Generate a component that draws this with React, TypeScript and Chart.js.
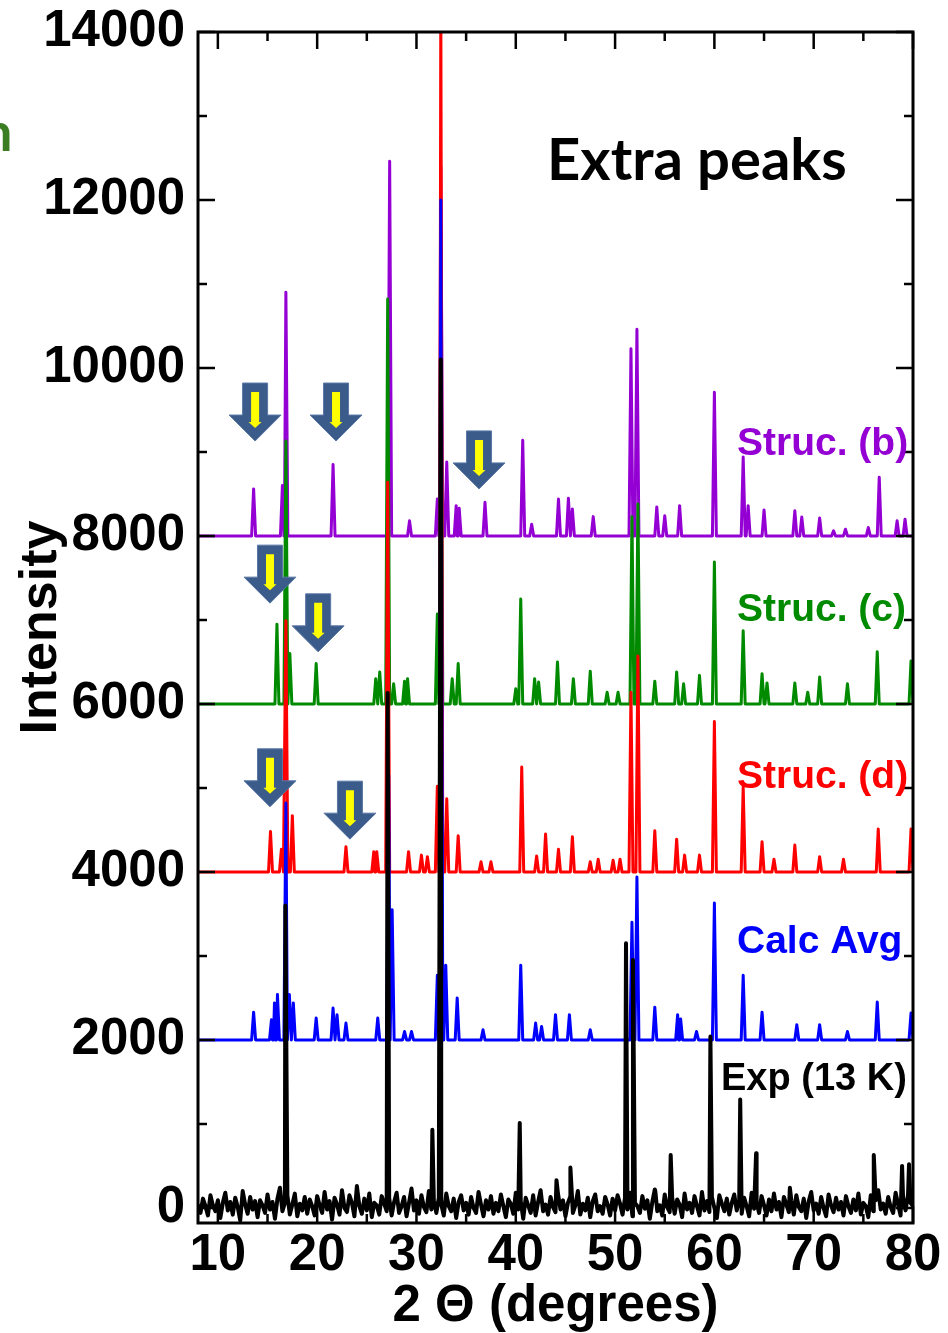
import React, { useEffect, useRef } from 'react';
import { Chart, registerables } from 'chart.js';

Chart.register(...registerables);

// ---------------- data ----------------
const X_MIN = 8;
const X_MAX = 80;
const Y_MIN = -180;
const Y_MAX = 14000;

const xTickValues = [10, 20, 30, 40, 50, 60, 70, 80];
const xMinorTickValues = [15, 25, 35, 45, 55, 65, 75];
const yTickValues = [0, 2000, 4000, 6000, 8000, 10000, 12000, 14000];
const yMinorTickValues = [1000, 3000, 5000, 7000, 9000, 11000, 13000];

const offsetB = 8000;
const offsetC = 6000;
const offsetD = 4000;
const offsetAvg = 2000;
const offsetExp = 0;

// [2θ, peak height above its baseline]
const peaksB: [number, number][] = [
  [13.6, 560], [16.5, 600], [16.85, 2900], [21.6, 850], [27.3, 4460], [29.3, 180],
  [32.1, 440], [32.45, 4400], [33.05, 880], [34.0, 360], [34.3, 330], [36.9, 400],
  [40.7, 1140], [41.6, 140], [44.3, 440], [45.3, 450], [45.7, 320], [47.8, 230],
  [51.6, 2230], [52.2, 2460], [54.2, 345], [55.0, 240], [56.5, 360], [60.0, 1710],
  [62.9, 940], [63.4, 360], [65.0, 310], [68.1, 300], [68.8, 225], [70.6, 215],
  [72.0, 60], [73.2, 80], [75.5, 100], [76.6, 700], [78.4, 180], [79.2, 200],
];

const peaksC: [number, number][] = [
  [15.95, 950], [16.85, 3130], [17.25, 600], [19.9, 480], [25.9, 300], [26.3, 380],
  [27.1, 4820], [27.7, 240], [28.8, 270], [29.1, 300], [32.1, 1070], [32.45, 5500],
  [33.6, 300], [34.2, 480], [40.0, 180], [40.5, 1250], [41.9, 300], [42.3, 260],
  [44.2, 500], [45.8, 300], [47.5, 390], [49.2, 140], [50.3, 140], [51.7, 2230],
  [52.3, 2380], [54.0, 270], [56.2, 380], [56.9, 240], [58.5, 340], [60.0, 1690],
  [62.9, 870], [64.8, 360], [65.3, 250], [68.1, 250], [69.4, 140], [70.6, 320],
  [73.4, 240], [76.4, 620], [79.8, 510],
];

const peaksD: [number, number][] = [
  [15.3, 480], [16.4, 270], [16.85, 2990], [17.5, 670], [22.9, 300], [25.7, 240],
  [26.0, 240], [27.1, 4640], [29.2, 240], [30.5, 200], [31.1, 180], [32.1, 1020],
  [32.45, 10400], [33.05, 870], [34.2, 430], [36.5, 120], [37.5, 120], [40.6, 1250],
  [42.1, 190], [43.0, 450], [44.3, 270], [45.7, 420], [47.5, 120], [48.3, 150],
  [49.8, 140], [50.5, 150], [51.6, 2140], [52.3, 2570], [54.0, 490], [56.2, 390],
  [57.0, 200], [58.5, 200], [60.0, 1790], [62.9, 1010], [64.8, 360], [66.0, 150],
  [68.1, 320], [70.6, 180], [73.0, 150], [76.5, 510], [79.8, 510],
];

const peaksAvg: [number, number][] = [
  [13.6, 330], [15.4, 240], [15.7, 440], [16.0, 540], [16.85, 2820], [17.2, 540],
  [17.6, 440], [19.9, 260], [21.6, 380], [22.0, 300], [22.9, 200], [26.1, 260],
  [27.2, 3150], [27.55, 1550], [28.8, 100], [29.5, 100], [32.1, 770], [32.45, 10000],
  [32.95, 890], [34.1, 500], [36.7, 120], [40.5, 890], [42.0, 200], [42.6, 160],
  [44.0, 300], [45.4, 300], [47.5, 120], [51.7, 1400], [52.2, 1940], [54.0, 390],
  [56.3, 300], [56.6, 250], [58.2, 100], [60.0, 1630], [62.9, 770], [64.8, 330],
  [68.3, 180], [70.6, 180], [73.4, 100], [76.4, 450], [79.8, 320],
];

// experimental background noise, sampled every 0.25° starting at 8°
const expNoiseStart = 8;
const expNoiseStep = 0.25;
const expNoise = [
  40, -60, 110, 20, -90, 150, 30, -40, 90, -120, 60, 180, -30, 70, -80, 120, 10, -150, 200, 40, -70, 130, -20, 80,
  -110, 90, 30, -60, 160, -20, 70, -130, 110, 240, -40, 60, 150, -80, 40, 170, -100, 50, -30, 130, -70, 100, 20, -90,
  140, 30, -60, 190, -20, 80, -140, 120, 40, -80, 210, 0, -50, 150, 60, -100, 260, 20, -70, 110, -30, 170, -110, 60,
  30, -80, 140, 50, -40, 120, -90, 70, 180, -60, 20, 130, -100, 60, 230, -30, 90, -70, 150, 10, -50, 200, -20, 80,
  -60, 120, 40, -90, 170, 20, -40, 110, -120, 70, 150, -30, 60, -80, 130, 0, -60, 190, 40, -100, 90, -20, 140, -70,
  60, -40, 160, 20, -110, 100, 50, -70, 180, -20, 80, -130, 120, 30, -60, 150, -90, 70, 210, -40, 40, -80, 130, 10,
  -50, 170, -20, 90, -100, 60, 140, -60, 30, 200, -80, 50, -30, 120, -110, 80, 160, -40, 20, -70, 130, 40, -90, 110,
  -30, 150, 50, -80, 120, -20, 180, -100, 60, 20, -60, 140, -10, 90, -130, 70, 220, -40, 30, -90, 160, 10, -50, 120,
  -70, 100, 40, -110, 170, -20, 60, -60, 140, 20, -90, 190, -30, 80, -50, 130, 0, -120, 150, 50, -40, 110, -80, 60,
  160, -30, 90, -70, 120, 20, -100, 180, -10, 60, -60, 140, 30, -90, 100, -40, 170, -20, 70, -110, 130, 40, -50, 90,
  -80, 150, 10, -40, 110, -120, 80, 190, -30, 50, -70, 130, 0, -100, 160, 30, -50, 120, -20, 70, -90, 140, 20, -60,
  100, -30, 170, -80, 60, 20, -110, 150, -40, 90, 210, -20, 50, -70, 130, 10, -60, 180, 40, -90, 120, -30, 160, 60,
  20,
];

const expPeaks: [number, number][] = [
  [16.8, 3600], [27.1, 6130], [31.6, 930], [32.45, 10100], [40.4, 1010], [44.1, 330],
  [45.5, 480], [51.1, 3150], [51.8, 2950], [54.05, 200], [55.6, 630], [59.6, 2040],
  [62.6, 1290], [64.2, 650], [67.6, 240], [76.05, 630], [78.9, 500], [79.6, 520],
];

// arrow annotations: [2θ, intensity at arrow tip]
const arrowTips: [number, number][] = [
  [13.75, 9130], [21.9, 9130], [36.3, 8560],
  [15.25, 7200], [20.1, 6620],
  [15.25, 4775], [23.3, 4390],
];

// ---------------- styles ----------------
const FONT = '"Liberation Sans", Arial, Helvetica, sans-serif';
const COL_B = '#9400D3';
const COL_C = '#008A00';
const COL_D = '#FF0000';
const COL_AVG = '#0000FF';
const COL_EXP = '#000000';
const PEAK_HALF_WIDTH = 0.2;

type Pt = { x: number; y: number };

function buildStick(peaks: [number, number][], base: number): Pt[] {
  const pts: Pt[] = [{ x: X_MIN, y: base }];
  for (const [x, h] of peaks) {
    pts.push({ x: x - PEAK_HALF_WIDTH, y: base });
    pts.push({ x, y: base + h });
    pts.push({ x: x + PEAK_HALF_WIDTH, y: base });
  }
  pts.push({ x: X_MAX, y: base });
  pts.sort((a, b) => a.x - b.x);
  return pts;
}

function buildExp(): Pt[] {
  const pts: Pt[] = expNoise.map((v, i) => ({ x: expNoiseStart + i * expNoiseStep, y: offsetExp + v }));
  for (const [x, h] of expPeaks) pts.push({ x, y: offsetExp + h });
  pts.sort((a, b) => a.x - b.x);
  return pts;
}

const textLabels = [
  { text: 'Extra peaks', x: 547, y: 180, color: '#000', font: 'bold 58px Lato, "Open Sans", sans-serif' },
  { text: 'Struc. (b)', x: 737, y: 455, color: COL_B, font: `bold 39px ${FONT}` },
  { text: 'Struc. (c)', x: 737, y: 621, color: COL_C, font: `bold 39px ${FONT}` },
  { text: 'Struc. (d)', x: 737, y: 788, color: COL_D, font: `bold 39px ${FONT}` },
  { text: 'Calc Avg', x: 737, y: 953, color: COL_AVG, font: `bold 39px ${FONT}` },
  { text: 'Exp (13 K)', x: 721, y: 1090, color: '#000', font: `bold 38px ${FONT}` },
  { text: 'n', x: -18, y: 151, color: '#3B7D23', font: 'bold 54px Lato, "Open Sans", sans-serif' },
];

const decorPlugin = {
  id: 'decor',
  afterDraw(chart: any) {
    const { ctx, chartArea: a, scales } = chart;
    const xs = scales.x;
    const ys = scales.y;
    ctx.save();
    // inward ticks
    ctx.strokeStyle = '#000';
    ctx.lineWidth = 2.5;
    ctx.beginPath();
    const tick = (len: number, vals: number[], horiz: boolean) => {
      for (const v of vals) {
        if (horiz) {
          const px = xs.getPixelForValue(v);
          ctx.moveTo(px, a.bottom); ctx.lineTo(px, a.bottom - len);
          ctx.moveTo(px, a.top); ctx.lineTo(px, a.top + len);
        } else {
          const py = ys.getPixelForValue(v);
          ctx.moveTo(a.left, py); ctx.lineTo(a.left + len, py);
          ctx.moveTo(a.right, py); ctx.lineTo(a.right - len, py);
        }
      }
    };
    tick(17, xTickValues, true);
    tick(9, xMinorTickValues, true);
    tick(17, yTickValues, false);
    tick(9, yMinorTickValues, false);
    ctx.stroke();
    // frame
    ctx.lineWidth = 3;
    ctx.strokeRect(a.left, a.top, a.right - a.left, a.bottom - a.top);

    // arrows
    for (const [xv, yv] of arrowTips) {
      const cx = xs.getPixelForValue(xv);
      const ty = ys.getPixelForValue(yv);
      ctx.fillStyle = '#3B5B8B';
      ctx.strokeStyle = '#5A77A6';
      ctx.lineWidth = 1;
      ctx.beginPath();
      ctx.moveTo(cx - 12.5, ty - 58);
      ctx.lineTo(cx + 12.5, ty - 58);
      ctx.lineTo(cx + 12.5, ty - 26);
      ctx.lineTo(cx + 26, ty - 26);
      ctx.lineTo(cx, ty);
      ctx.lineTo(cx - 26, ty - 26);
      ctx.lineTo(cx - 12.5, ty - 26);
      ctx.closePath();
      ctx.fill();
      ctx.stroke();
      ctx.fillStyle = '#FFFF00';
      ctx.beginPath();
      ctx.moveTo(cx - 4, ty - 49);
      ctx.lineTo(cx + 4, ty - 49);
      ctx.lineTo(cx + 4, ty - 19);
      ctx.lineTo(cx + 6.5, ty - 19);
      ctx.lineTo(cx, ty - 13);
      ctx.lineTo(cx - 6.5, ty - 19);
      ctx.lineTo(cx - 4, ty - 19);
      ctx.closePath();
      ctx.fill();
    }

    // text annotations
    ctx.textBaseline = 'alphabetic';
    ctx.textAlign = 'left';
    for (const t of textLabels) {
      ctx.font = t.font;
      ctx.fillStyle = t.color;
      ctx.fillText(t.text, t.x, t.y);
    }
    ctx.restore();
  },
};

export default function App() {
  const ref = useRef<HTMLCanvasElement | null>(null);

  useEffect(() => {
    if (!ref.current) return;
    const lineDs = (label: string, data: Pt[], color: string, width: number) => ({
      label,
      data,
      borderColor: color,
      backgroundColor: color,
      borderWidth: width,
      pointRadius: 0,
      tension: 0,
      borderJoinStyle: 'round' as const,
      fill: false,
    });
    const tickFont = { family: FONT, size: 51, weight: 'bold' as const };
    const chart = new Chart(ref.current, {
      type: 'line',
      data: {
        datasets: [
          lineDs('Exp (13 K)', buildExp(), COL_EXP, 4),
          lineDs('Calc Avg', buildStick(peaksAvg, offsetAvg), COL_AVG, 3),
          lineDs('Struc. (d)', buildStick(peaksD, offsetD), COL_D, 3),
          lineDs('Struc. (c)', buildStick(peaksC, offsetC), COL_C, 3),
          lineDs('Struc. (b)', buildStick(peaksB, offsetB), COL_B, 3),
        ],
      },
      options: {
        responsive: false,
        animation: false,
        devicePixelRatio: 1,
        parsing: false,
        normalized: true,
        events: [],
        layout: { padding: { left: 0, top: 32, right: 35, bottom: 0 } },
        plugins: { legend: { display: false }, tooltip: { enabled: false } },
        scales: {
          x: {
            type: 'linear',
            min: X_MIN,
            max: X_MAX,
            afterBuildTicks: (s: any) => { s.ticks = xTickValues.map((v) => ({ value: v })); },
            afterFit: (s: any) => {
              s.height = 110;
              s.paddingLeft = 0; s.paddingRight = 0; s.paddingTop = 0; s.paddingBottom = 0;
            },
            grid: { display: false, drawTicks: false },
            border: { display: false },
            ticks: {
              font: tickFont, color: '#000', padding: 2, maxRotation: 0, autoSkip: false,
              callback: (v: any) => String(v),
            },
            title: {
              display: true,
              text: '2 Θ (degrees)',
              color: '#000',
              font: { family: FONT, size: 51, weight: 'bold', lineHeight: 1 },
              padding: { top: 0, bottom: 1 },
            },
          },
          y: {
            type: 'linear',
            min: Y_MIN,
            max: Y_MAX,
            afterBuildTicks: (s: any) => { s.ticks = yTickValues.map((v) => ({ value: v })); },
            afterFit: (s: any) => {
              s.width = 198;
              s.paddingLeft = 0; s.paddingRight = 0; s.paddingTop = 0; s.paddingBottom = 0;
            },
            grid: { display: false, drawTicks: false },
            border: { display: false },
            ticks: {
              font: tickFont, color: '#000', padding: 13, autoSkip: false,
              callback: (v: any) => String(v),
            },
            title: {
              display: true,
              text: 'Intensity',
              color: '#000',
              font: { family: FONT, size: 52, weight: 'bold', lineHeight: 1 },
              padding: { top: 16, bottom: 0 },
            },
          },
        },
      },
      plugins: [decorPlugin],
    } as any);
    let alive = true;
    if ((document as any).fonts && (document as any).fonts.load) {
      Promise.all([
        (document as any).fonts.load(`bold 51px ${FONT}`),
        (document as any).fonts.load('bold 58px Lato'),
      ]).then(() => { if (alive) chart.update('none'); }, () => {});
    }
    return () => {
      alive = false;
      chart.destroy();
    };
  }, []);

  return (
    <div style={{ position: 'absolute', left: 0, top: 0, width: 948, height: 1333, overflow: 'hidden', background: '#fff' }}>
      <canvas ref={ref} width={948} height={1333} style={{ display: 'block', width: 948, height: 1333 }} />
    </div>
  );
}
